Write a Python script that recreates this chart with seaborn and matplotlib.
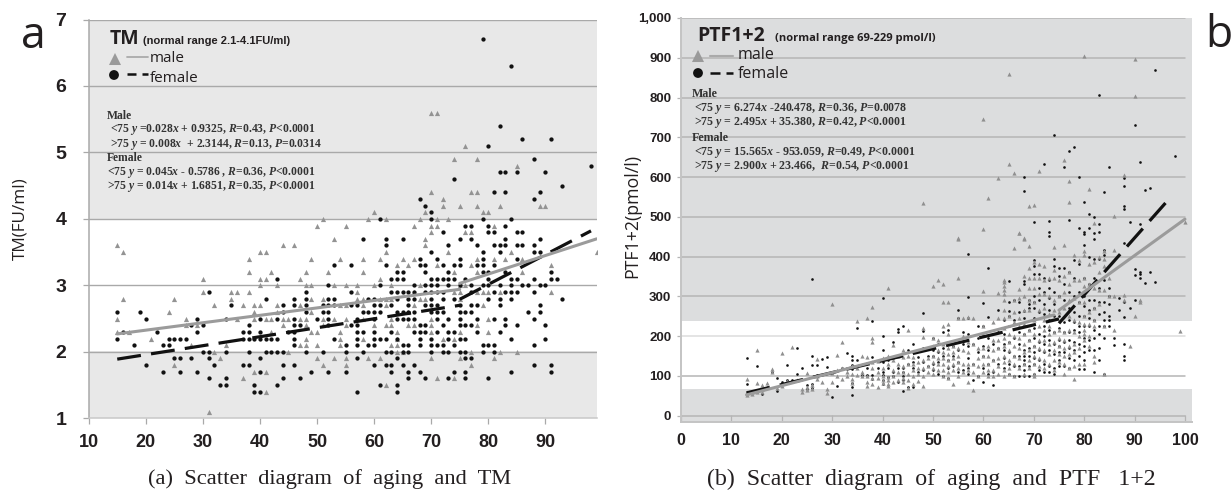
import matplotlib
matplotlib.use("Agg")
import matplotlib.pyplot as plt
import pandas as pd
import seaborn as sns

sns.set_theme(style="white")
plt.rcParams["mathtext.fontset"] = "custom"
plt.rcParams["mathtext.rm"] = "Liberation Serif:bold"
plt.rcParams["mathtext.it"] = "Liberation Serif:italic:bold"
plt.rcParams["mathtext.bf"] = "Liberation Serif:bold"

# ---------- Panel a: TM value -> ages ----------
tm_female_rows = [
    (6.7, [79]), (6.3, [84]), (5.4, [82]), (5.2, [86, 91]), (5.1, [80]), (4.9, [88]), (4.8, [98]),
    (4.7, [82, 83, 85, 90]), (4.6, [74]), (4.5, [93]), (4.4, [81, 83, 89]), (4.3, [68, 88]), (4.2, [69]),
    (4.1, [70]), (4.0, [61, 70, 79, 84]), (3.9, [76, 77, 80, 83]), (3.8, [72, 80, 81, 85, 86]),
    (3.7, [58, 62, 65, 75, 77, 83, 89]), (3.6, [62, 73, 78, 81, 82, 83, 85, 86, 88]),
    (3.5, [70, 79, 82, 88, 89]), (3.4, [68, 71, 75, 79, 85]),
    (3.3, [53, 56, 62, 68, 69, 72, 74, 75, 78, 79, 81]), (3.2, [64, 65, 69, 73, 79, 80, 83, 91]),
    (3.1, [43, 63, 64, 65, 70, 71, 72, 73, 74, 76, 80, 84, 85, 88, 91, 92]),
    (3.0, [52, 61, 67, 69, 70, 71, 73, 75, 77, 79, 80, 82, 84, 86, 87, 89, 90]),
    (2.9, [31, 48, 56, 63, 64, 65, 66, 67, 69, 70, 71, 72, 77, 81, 83, 84, 85, 88]),
    (2.8, [41, 46, 48, 52, 53, 59, 60, 64, 66, 67, 70, 72, 74, 80, 82, 84, 93]),
    (2.7, [35, 44, 46, 48, 51, 52, 53, 56, 57, 60, 61, 63, 66, 69, 70, 71, 75, 77, 78, 82, 89]),
    (2.6, [15, 19, 44, 48, 51, 52, 58, 59, 60, 61, 64, 65, 66, 67, 70, 71, 72, 75, 76, 77, 87, 89]),
    (2.5, [20, 29, 34, 40, 43, 46, 50, 52, 57, 60, 64, 65, 66, 67, 71, 73, 75, 78, 81, 83, 88]),
    (2.4, [28, 30, 38, 46, 47, 52, 56, 57, 68, 69, 72, 75, 76, 77, 83, 85, 90]),
    (2.3, [16, 22, 29, 37, 38, 40, 45, 46, 57, 58, 60, 63, 67, 68, 69, 71, 73, 74, 78, 82]),
    (2.2, [15, 24, 25, 26, 27, 37, 38, 39, 40, 41, 42, 43, 46, 53, 57, 60, 61, 62, 64, 68, 70, 73, 75, 76, 84, 90]),
    (2.1, [18, 23, 24, 46, 55, 57, 59, 60, 65, 66, 68, 70, 71, 72, 74, 79, 80, 81, 88]),
    (2.0, [30, 31, 34, 38, 41, 42, 43, 44, 48, 51, 55, 58, 62, 63, 65, 66, 70, 72, 73, 75, 76, 79, 81]),
    (1.9, [25, 26, 28, 31, 40, 57, 64, 76, 77]),
    (1.8, [20, 32, 37, 38, 44, 46, 60, 62, 63, 65, 67, 88, 91]),
    (1.7, [23, 26, 29, 40, 49, 52, 55, 63, 66, 68, 74, 76, 84, 91]),
    (1.6, [31, 34, 44, 47, 66, 69, 73, 76, 80]), (1.5, [33, 34, 39, 43, 61, 64]), (1.4, [39, 40, 57, 64]),
]
tm_male_rows = [
    (5.6, [70, 71]), (5.1, [76]), (4.9, [74, 78]), (4.8, [85]), (4.4, [70, 77, 78]), (4.3, [72]),
    (4.2, [72, 75, 78, 82, 89, 90]), (4.1, [60, 69, 79, 80]), (4.0, [51, 59, 62, 68, 71, 73]),
    (3.9, [50, 55, 67, 70, 71, 81]), (3.8, [70, 76, 77]), (3.7, [53, 69]), (3.6, [15, 44, 46, 69]),
    (3.5, [16, 40, 41, 62, 73, 84, 99]), (3.4, [38, 49, 54, 58, 61, 65, 67, 78, 81, 83, 86]),
    (3.3, [64, 66, 71, 77, 91]), (3.2, [38, 42, 48, 52, 58, 74, 78, 86]), (3.1, [30, 40, 41, 47, 61]),
    (3.0, [40, 43, 48, 49, 53, 55, 57, 60, 63, 68, 75, 76]),
    (2.9, [30, 35, 36, 38, 57, 67, 74, 75, 78, 79, 80, 82, 91]),
    (2.8, [16, 25, 35, 49, 51, 57, 58, 61, 62, 63, 68, 69, 75]),
    (2.7, [32, 37, 39, 40, 43, 47, 54, 55, 58, 62, 67, 79]), (2.6, [24, 39, 43, 49, 66]),
    (2.5, [15, 27, 36, 39, 41, 42, 44, 45, 47, 48, 51, 53, 55, 58, 63, 70, 80]),
    (2.4, [27, 29, 44, 48, 51, 55, 60, 62, 63, 66, 67, 70, 78]),
    (2.3, [15, 17, 42, 49, 50, 54, 64, 70, 75, 80]), (2.2, [21, 48, 54, 58, 64, 72, 74]),
    (2.1, [28, 34, 47, 48, 50, 54, 63, 64]), (2.0, [32, 45, 64, 65, 77, 82, 85]),
    (1.9, [33, 50, 53, 55, 59, 61, 70, 75, 81]), (1.8, [25, 51, 55, 77]), (1.7, [39, 41]),
    (1.6, [37, 71, 74]), (1.5, [62]), (1.4, [41]), (1.1, [31]),
]

# ---------- Panel b: age -> PTF1+2 values ----------
ptf_female_cols = [
    (13, [145, 80]), (15, [124]), (16, [55]), (18, [110]), (19, [95, 61]), (20, [85]), (21, [128, 89]), (22, [90]),
    (23, [171, 104]), (24, [119]), (25, [78, 68]), (26, [343, 150, 127, 80, 70]), (27, [127, 103]), (28, [141]),
    (29, [147, 121]), (30, [47, 108]), (31, [75, 112]), (32, [119]), (33, [157]),
    (34, [150, 140, 128, 118, 83, 72, 51]), (35, [219, 140, 125]), (36, [102]), (37, [119, 102]),
    (38, [239, 148, 135, 102, 92]), (39, [120]), (40, [295, 201, 165, 135, 110, 102, 89, 80]),
    (41, [140, 120, 96]), (42, [185, 145, 110, 100]), (43, [217, 210, 120, 85]),
    (44, [226, 120, 110, 100, 89, 62]), (45, [165, 130, 72]), (46, [180, 160, 135, 120, 73]), (47, [148, 110]),
    (48, [257, 213, 170, 135, 115]), (49, [150, 125]), (50, [195, 165, 150, 130, 115]),
    (51, [180, 160, 135, 105]), (52, [210, 170, 150, 100]), (53, [215, 185, 140, 120, 95]),
    (54, [175, 150, 125]), (55, [265, 245, 190, 165, 135, 110]), (56, [210, 180, 115]),
    (57, [406, 299, 245, 205, 175, 145, 120, 105]), (58, [180, 130, 90]), (59, [225, 195, 160, 100]),
    (60, [284, 225, 200, 175, 150, 120, 85]), (61, [371, 249, 195, 165, 130, 105]),
    (62, [180, 140, 110, 78]), (63, [265, 210, 170, 130]), (64, [240, 205, 180, 165, 145, 120]),
    (65, [338, 285, 262, 250, 225, 185, 160, 130, 105]), (66, [290, 240, 195, 150, 125, 100]),
    (67, [285, 260, 210, 180, 150, 125, 100]), (68, [599, 566, 338, 332, 262, 245, 205, 165, 150, 140, 130, 115, 100]),
    (69, [290, 280, 270, 215, 190, 170, 150, 125, 100]),
    (70, [487, 390, 375, 356, 300, 285, 270, 245, 220, 195, 175, 160, 145, 130, 105]),
    (71, [356, 320, 290, 260, 205, 185, 165, 140, 115]), (72, [633, 345, 310, 280, 255, 225, 200, 180, 160, 130, 110]),
    (73, [489, 462, 452, 340, 320, 295, 265, 240, 215, 190, 165, 125, 110]),
    (74, [706, 394, 375, 310, 280, 250, 210, 180, 155, 120, 105]),
    (75, [372, 350, 300, 250, 220, 190, 175, 160, 140, 125]), (76, [624, 370, 330, 290, 235, 210, 185, 160, 125]),
    (77, [665, 492, 360, 310, 270, 240, 210, 190, 170, 145, 120]),
    (78, [675, 390, 345, 300, 260, 235, 215, 185, 165, 140]),
    (79, [600, 472, 380, 310, 285, 250, 225, 210, 180, 150, 118]),
    (80, [536, 462, 456, 430, 345, 300, 275, 250, 225, 195, 175, 160, 140, 118]),
    (81, [507, 473, 399, 330, 290, 265, 245, 225, 190, 165]),
    (82, [500, 459, 443, 394, 345, 290, 270, 240, 215, 195, 165, 110]),
    (83, [806, 483, 462, 395, 320, 285, 255, 225, 205, 170, 140]), (84, [563, 416, 404, 340, 285, 260, 240, 225, 195, 105]),
    (85, [626, 320, 300, 280, 250, 240, 225]), (86, [195, 178]), (87, [296, 265]),
    (88, [598, 578, 528, 519, 435, 285, 247, 180, 150, 140]), (89, [486, 270]), (90, [730, 368, 353, 290]),
    (91, [637, 482, 362, 356, 345]), (92, [568, 334]), (93, [572, 361]), (94, [868, 337]), (98, [652]),
]
ptf_male_cols = [
    (13, [92, 60, 52]), (14, [58, 55]), (15, [165, 83, 58]), (16, [78, 68, 58]), (17, [81, 72]), (18, [116, 110]),
    (19, [70]), (20, [158, 75]), (21, [88]), (22, [172]), (23, [90]), (24, [66, 60]), (25, [108, 73, 64]),
    (26, [77, 68]), (27, [141, 100, 93]), (28, [85]), (29, [68, 56]), (30, [280, 106, 85]), (31, [152, 115, 100]),
    (32, [185, 120, 93]), (33, [110, 100]), (34, [125, 105, 93, 82]), (35, [239, 120, 102]), (36, [151, 110, 100]),
    (37, [245, 148, 100, 85, 75]), (38, [272, 194, 186, 135, 120, 95, 80]), (39, [138, 110, 95, 73]),
    (40, [145, 120, 100, 90, 81]), (41, [320, 150, 130, 98, 90, 80, 75]), (42, [178, 140, 115, 100, 85]),
    (43, [150, 130, 110, 90]), (44, [165, 148, 125, 110, 95, 85]), (45, [215, 150, 130, 105, 90, 69]),
    (46, [148, 130, 115, 100, 80]), (47, [135, 120, 105, 88]), (48, [535, 219, 198, 140, 120, 100, 74]),
    (49, [145, 125, 110]), (50, [326, 195, 175, 150, 135, 120, 105]), (51, [341, 190, 165, 145, 130, 115]),
    (52, [332, 286, 225, 180, 160, 145, 130, 115, 100]), (53, [286, 230, 205, 170, 155, 140, 125, 110, 95]),
    (54, [175, 160, 145, 130, 115, 80]), (55, [447, 443, 347, 245, 170, 150, 135, 120, 100]),
    (56, [245, 200, 165, 130, 110]), (57, [248, 185, 160, 130, 115, 85]), (58, [245, 180, 130, 110, 65]),
    (59, [170, 145, 125, 100]), (60, [746, 470, 314, 225, 205, 170, 150, 130, 110]),
    (61, [548, 175, 150, 130, 115, 100]), (62, [235, 190, 165, 140, 115, 100]),
    (63, [598, 307, 245, 190, 170, 145, 125, 105]),
    (64, [340, 335, 325, 315, 305, 290, 265, 245, 220, 195, 175, 150, 135, 115, 100]),
    (65, [859, 633, 250, 205, 185, 165, 140, 120, 105]), (66, [609, 422, 290, 260, 235, 200, 175, 150, 130, 100]),
    (67, [460, 458, 318, 295, 245, 225, 195, 170, 145, 120]), (68, [447, 443, 350, 300, 265, 230, 205, 180, 160, 130, 105]),
    (69, [526, 426, 370, 345, 320, 290, 265, 215, 190, 165, 140, 120]),
    (70, [530, 385, 345, 320, 285, 240, 205, 175, 150, 130, 105, 100]),
    (71, [614, 380, 345, 305, 265, 225, 190, 170, 145, 125]), (72, [375, 340, 305, 270, 240, 215, 190, 165, 140, 120]),
    (73, [345, 300, 255, 225, 205, 180, 155, 130]), (74, [424, 365, 345, 290, 265, 210, 185, 165, 140, 115]),
    (75, [340, 300, 260, 215, 195, 175, 155, 135]), (76, [644, 429, 350, 310, 270, 210, 190, 170, 150, 130, 105]),
    (77, [590, 538, 360, 330, 290, 250, 215, 175, 155, 120]), (78, [405, 340, 295, 240, 210, 180, 160, 125, 91]),
    (79, [390, 340, 285, 235, 200, 170, 130]), (80, [904, 415, 405, 345, 325, 285, 250, 230, 215, 205, 190, 130]),
    (81, [569, 380, 330, 260, 230, 200, 175]), (82, [485, 385, 320, 270, 240, 225, 150, 135]),
    (83, [400, 360, 315, 280]), (84, [415, 395, 375, 315, 225, 104]), (85, [345, 300]), (86, [502, 416, 300, 215]),
    (88, [606, 303, 290]), (89, [176]), (90, [896, 805, 250]), (91, [290, 285]), (99, [213]), (100, [487]),
]

# ---------- Fit lines (age, value) ----------
tm_male_low = ([15, 75], [2.27, 2.94])
tm_male_high = ([75, 99], [3.03, 3.70])
tm_female_low = ([15, 75], [1.89, 2.70])
tm_female_high = ([75, 98], [2.79, 3.82])
ptf_male_low = ([13, 74], [52, 253])
ptf_male_high = ([75, 100], [265, 494])
ptf_female_low = ([13, 75], [57, 243])
ptf_female_high = ([75, 97], [232, 547])

tm_ticks_x = [10, 20, 30, 40, 50, 60, 70, 80, 90]
tm_ticks_y = [1, 2, 3, 4, 5, 6, 7]
ptf_ticks_x = [0, 10, 20, 30, 40, 50, 60, 70, 80, 90, 100]
ptf_ticks_y = [0, 100, 200, 300, 400, 500, 600, 700, 800, 900, 1000]
ptf_labels_y = ["0", "100", "200", "300", "400", "500", "600", "700", "800", "900", "1,000"]

W, H = 1231, 492
GREY = "#9b9b9b"
INK = "#231f20"
AXG = "#a9a9a9"
DASH = (0, (7.5, 3.2))


def from_rows(rows):
    return pd.DataFrame([(a, v) for v, ages in rows for a in ages], columns=["age", "value"])


def from_cols(cols):
    return pd.DataFrame([(a, v) for a, vals in cols for v in vals], columns=["age", "value"])


def px_axes(fig, x0, x1, y_top, y_bot):
    return fig.add_axes([x0 / W, 1 - y_bot / H, (x1 - x0) / W, (y_bot - y_top) / H])


def ftext(fig, x, y, s, **kw):
    kw.setdefault("va", "center")
    kw.setdefault("color", INK)
    return fig.text(x / W, 1 - y / H, s, **kw)


def segment(ax, seg, color, lw, ls="-"):
    sns.lineplot(x=seg[0], y=seg[1], color=color, linewidth=lw, linestyle=ls, ax=ax,
                 estimator=None, sort=False, errorbar=None, legend=False, zorder=5)


fig = plt.figure(figsize=(W / 100, H / 100), dpi=100, facecolor="white")

# ---------------- Panel a ----------------
ax = px_axes(fig, 88.7, 596.7, 19.5, 418.3)
ax.set_xlim(10, 99)
ax.set_ylim(1, 7)
ax.axhspan(1, 2.02, color="#e8e8e8", lw=0, zorder=0)
ax.axhspan(4, 7, color="#e8e8e8", lw=0, zorder=0)
for v in tm_ticks_y[1:]:
    ax.axhline(v, color=AXG, lw=1.0, zorder=1)
sns.scatterplot(data=from_rows(tm_male_rows), x="age", y="value", marker="^", color="#939393", s=14,
                linewidth=0, ax=ax, zorder=3, legend=False)
sns.scatterplot(data=from_rows(tm_female_rows), x="age", y="value", marker="o", color="#111111", s=9.5,
                linewidth=0, ax=ax, zorder=4, legend=False)
segment(ax, tm_female_low, "#111111", 2.3, DASH)
segment(ax, tm_female_high, "#111111", 2.3, DASH)
segment(ax, tm_male_low, GREY, 2.2)
segment(ax, tm_male_high, GREY, 2.2)
ax.set_xticks(tm_ticks_x)
ax.set_yticks(tm_ticks_y)
ax.set_xlabel("")
ax.set_ylabel("")
for s in ("top", "right"):
    ax.spines[s].set_visible(False)
ax.spines["left"].set_color(AXG)
ax.spines["bottom"].set_color("#c8c8c8")
ax.spines["left"].set_linewidth(1.1)
ax.spines["bottom"].set_linewidth(1.1)
ax.tick_params(axis="x", length=4, width=0.9, color=AXG, bottom=True, pad=7)
ax.tick_params(axis="y", length=4, width=0.9, color=AXG, left=True, pad=12)
for t in ax.get_xticklabels():
    t.set(family="Liberation Sans", weight="bold", size=13, color=INK)
for t in ax.get_yticklabels():
    t.set(family="Liberation Sans", weight="bold", size=14, color=INK)

ftext(fig, 20, 219, "TM(FU/ml)", family="Open Sans", size=12.3, rotation=90, ha="center")
ftext(fig, 21, 37, "a", family="Open Sans", size=32, ha="left")
ftext(fig, 110, 39, "TM", family="Open Sans", size=14, weight="bold", ha="left")
ftext(fig, 143, 41.5, "(normal range 2.1-4.1FU/ml)", family="Liberation Sans", size=8, weight="bold", ha="left")
ftext(fig, 150, 59, "male", family="Open Sans", size=11, ha="left")
ftext(fig, 150, 78, "female", family="Open Sans", size=11, ha="left")

tm_stats = [
    (107, 116, "Male"),
    (110, 130, r"<75 $y$ =0.028$x$ + 0.9325, $R$=0.43, $P$<0.0001"),
    (110, 144, r">75 $y$ = 0.008$x$  + 2.3144, $R$=0.13, $P$=0.0314"),
    (107, 158, "Female"),
    (107, 172, r"<75 $y$ = 0.045$x$ - 0.5786 , $R$=0.36, $P$<0.0001"),
    (107, 186, r">75 $y$ = 0.014$x$ + 1.6851, $R$=0.35, $P$<0.0001"),
]
for x, y, s in tm_stats:
    ftext(fig, x, y, s, family="Liberation Serif", weight="bold", size=8.4, ha="left", color="#333333")

# ---------------- Panel b ----------------
bx = px_axes(fig, 681, 1192, 18, 421.5)
bx.set_xlim(0, 101.4)
bx.set_ylim(-15, 1000)
bx.axhspan(-15, 67, color="#dcddde", lw=0, zorder=0)
bx.axhspan(238, 1000, color="#dcddde", lw=0, zorder=0)
for v in ptf_ticks_y:
    bx.plot([0, 100], [v, v], color="#b5b5b5" if v != 200 else "#dddddd", lw=1.1, zorder=1)
sns.scatterplot(data=from_cols(ptf_female_cols), x="age", y="value", marker="o", color="#111111", s=3.6,
                linewidth=0, ax=bx, zorder=3, legend=False)
sns.scatterplot(data=from_cols(ptf_male_cols), x="age", y="value", marker="^", color="#8f8f8f", s=9,
                linewidth=0, ax=bx, zorder=4, legend=False)
segment(bx, ptf_female_low, "#111111", 2.3, DASH)
segment(bx, ptf_female_high, "#111111", 2.3, DASH)
segment(bx, ptf_male_low, GREY, 2.2)
segment(bx, ptf_male_high, GREY, 2.2)
bx.set_xticks(ptf_ticks_x)
bx.set_yticks(ptf_ticks_y)
bx.set_yticklabels(ptf_labels_y)
bx.set_xlabel("")
bx.set_ylabel("")
for s in ("top", "right"):
    bx.spines[s].set_visible(False)
bx.spines["left"].set_color("#c4c4c4")
bx.spines["bottom"].set_color("#c4c4c4")
bx.spines["left"].set_linewidth(1.4)
bx.spines["bottom"].set_linewidth(1.4)
bx.tick_params(axis="x", length=5, width=0.9, color="#b5b5b5", bottom=True, direction="in", pad=8)
bx.tick_params(axis="y", length=3, width=0.9, color="#b5b5b5", left=True, pad=4)
for t in bx.get_xticklabels():
    t.set(family="Liberation Sans", weight="bold", size=11.5, color=INK)
for t in bx.get_yticklabels():
    t.set(family="Liberation Sans", weight="bold", size=9.5, color=INK)

ftext(fig, 632, 216, "PTF1+2(pmol/l)", family="Open Sans", size=12.8, rotation=90, ha="center")
ftext(fig, 1205, 36, "b", family="Open Sans", size=32, ha="left")
ftext(fig, 697, 36, "PTF1+2", family="Open Sans", size=14, weight="bold", ha="left")
ftext(fig, 775, 38, "(normal range 69-229 pmol/l)", family="Open Sans", size=8, weight="bold", ha="left")
ftext(fig, 738, 55, "male", family="Open Sans", size=11.5, ha="left")
ftext(fig, 738, 74, "female", family="Open Sans", size=11.5, ha="left")

ptf_stats = [
    (692, 94, "Male"),
    (694, 108, r"<75 $y$ = 6.274$x$ -240.478, $R$=0.36, $P$=0.0078"),
    (694, 123, r">75 $y$ = 2.495$x$ + 35.380, $R$=0.42, $P$<0.0001"),
    (692, 138, "Female"),
    (694, 152, r"<75 $y$ = 15.565$x$ - 953.059, $R$=0.49, $P$<0.0001"),
    (694, 167, r">75 $y$ = 2.900$x$ + 23.466,  $R$=0.54, $P$<0.0001"),
]
for x, y, s in ptf_stats:
    ftext(fig, x, y, s, family="Liberation Serif", weight="bold", size=8.6, ha="left", color="#333333")

# ---------------- Legend glyphs on a full-figure overlay ----------------
ov = fig.add_axes([0, 0, 1, 1], facecolor="none")
ov.set_xlim(0, W)
ov.set_ylim(H, 0)
ov.axis("off")
ov.scatter([115, 698], [59, 56], marker="^", s=[75, 75], color="#9a9a9a", linewidth=0)
ov.scatter([114, 698], [75, 73], marker="o", s=[50, 50], color="#111111", linewidth=0)
ov.plot([127, 148], [57, 57], color="#aaaaaa", lw=1.3)
ov.plot([710, 733], [56, 56], color="#aaaaaa", lw=1.5)
ov.plot([127, 148], [74, 74], color="#111111", lw=1.8, linestyle=(0, (3.6, 2.4)))
ov.plot([710, 733], [73, 73], color="#111111", lw=1.8, linestyle=(0, (4, 2.4)))

# ---------------- Captions ----------------
ftext(fig, 148, 479, "(a)  Scatter  diagram  of  aging  and  TM", family="Liberation Serif", size=16.2, ha="left")
ftext(fig, 707, 479, "(b)  Scatter  diagram  of  aging  and  PTF   1+2", family="Liberation Serif", size=17.2, ha="left")

fig.savefig("out.png", dpi=100, facecolor="white")
